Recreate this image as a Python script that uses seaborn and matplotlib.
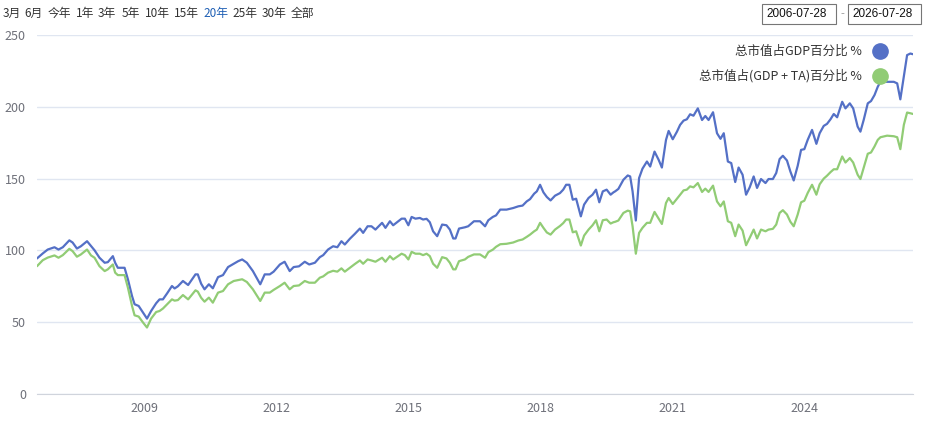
import matplotlib
matplotlib.use("Agg")
import matplotlib.pyplot as plt
import matplotlib.dates as mdates
from matplotlib.patches import Rectangle
import pandas as pd
import seaborn as sns

# Datos
fechas = [
    "2006-07-28", "2006-09-14", "2006-10-25", "2006-12-20", "2007-01-22", "2007-02-27",
    "2007-04-22", "2007-05-19", "2007-06-24", "2007-07-27", "2007-09-16", "2007-10-19",
    "2007-11-17", "2007-12-28", "2008-02-09", "2008-03-06", "2008-04-17", "2008-05-06",
    "2008-05-28", "2008-07-23", "2008-08-20", "2008-09-23", "2008-10-14", "2008-11-17",
    "2008-12-23", "2009-01-25", "2009-02-28", "2009-04-11", "2009-05-09", "2009-06-06",
    "2009-07-11", "2009-08-20", "2009-09-11", "2009-10-08", "2009-11-19", "2010-01-01",
    "2010-03-03", "2010-03-22", "2010-04-19", "2010-05-17", "2010-06-22", "2010-07-25",
    "2010-09-06", "2010-10-17", "2010-11-28", "2011-01-14", "2011-02-20", "2011-03-25",
    "2011-05-03", "2011-06-22", "2011-08-22", "2011-09-28", "2011-11-09", "2011-12-11",
    "2012-02-01", "2012-03-11", "2012-04-22", "2012-05-25", "2012-07-08", "2012-08-25",
    "2012-10-01", "2012-11-17", "2012-12-28", "2013-01-25", "2013-03-06", "2013-04-17",
    "2013-05-22", "2013-06-25", "2013-07-23", "2013-09-03", "2013-10-14", "2013-11-25",
    "2013-12-22", "2014-01-28", "2014-03-01", "2014-04-03", "2014-05-28", "2014-06-25",
    "2014-08-01", "2014-08-28", "2014-11-06", "2014-12-03", "2015-01-01", "2015-01-28",
    "2015-03-01", "2015-04-06", "2015-05-03", "2015-06-01", "2015-06-28", "2015-07-25",
    "2015-08-28", "2015-10-08", "2015-11-13", "2015-12-11", "2016-01-08", "2016-01-27",
    "2016-02-25", "2016-04-14", "2016-05-11", "2016-06-28", "2016-08-17", "2016-09-28",
    "2016-10-25", "2016-12-01", "2016-12-28", "2017-02-01", "2017-03-25", "2017-05-19",
    "2017-07-01", "2017-08-05", "2017-09-08", "2017-10-06", "2017-11-09", "2017-12-01",
    "2017-12-28", "2018-01-25", "2018-02-22", "2018-03-25", "2018-05-01", "2018-06-11",
    "2018-07-08", "2018-08-01", "2018-08-28", "2018-09-25", "2018-10-23", "2018-12-01",
    "2018-12-28", "2019-02-03", "2019-03-08", "2019-04-06", "2019-05-03", "2019-06-01",
    "2019-07-03", "2019-08-05", "2019-08-28", "2019-09-11", "2019-10-08", "2019-11-19",
    "2019-12-25", "2020-01-14", "2020-02-03", "2020-03-01", "2020-03-28", "2020-04-25",
    "2020-06-01", "2020-06-28", "2020-08-03", "2020-09-06", "2020-10-03", "2020-11-06",
    "2020-11-28", "2021-01-01", "2021-02-05", "2021-03-03", "2021-04-01", "2021-04-28",
    "2021-05-25", "2021-06-22", "2021-07-28", "2021-09-01", "2021-09-28", "2021-10-25",
    "2021-12-01", "2022-01-03", "2022-02-01", "2022-02-28", "2022-04-03", "2022-05-01",
    "2022-06-03", "2022-07-01", "2022-08-03", "2022-09-01", "2022-10-01", "2022-11-03",
    "2022-12-01", "2023-01-03", "2023-02-09", "2023-03-06", "2023-04-11", "2023-05-09",
    "2023-06-06", "2023-07-03", "2023-08-06", "2023-09-03", "2023-10-01", "2023-11-03",
    "2023-12-01", "2023-12-28", "2024-01-25", "2024-03-01", "2024-04-06", "2024-05-03",
    "2024-06-06", "2024-07-03", "2024-08-01", "2024-08-28", "2024-09-25", "2024-11-06",
    "2024-12-03", "2025-01-08", "2025-02-05", "2025-03-14", "2025-04-06", "2025-05-03",
    "2025-06-06", "2025-07-03", "2025-08-01", "2025-08-28", "2025-09-19", "2025-11-13",
    "2026-01-08", "2026-02-05", "2026-03-03", "2026-04-01", "2026-04-28", "2026-05-25",
    "2026-06-16",
]

gdp = [
    94.4, 97.9, 100.6, 102.2, 100.6, 102.2,
    107.0, 105.5, 101.3, 102.9, 106.4, 103.0,
    100.1, 94.9, 91.4, 91.8, 96.0, 91.4,
    87.9, 87.9, 79.8, 68.2, 62.5, 61.3,
    56.7, 52.5, 57.8, 63.2, 65.9, 65.9,
    70.1, 75.2, 73.5, 75.0, 78.7, 75.9,
    83.3, 83.3, 76.8, 72.9, 76.4, 73.6,
    81.4, 82.8, 88.4, 90.7, 92.5, 93.7,
    91.4, 85.6, 76.4, 83.3, 83.3, 85.2,
    90.2, 92.1, 85.6, 88.4, 88.9, 92.1,
    90.2, 91.4, 95.3, 96.7, 100.6, 102.9,
    102.2, 106.4, 104.1, 108.1, 111.5, 115.2,
    112.2, 116.8, 116.8, 114.5, 119.2, 115.7,
    120.3, 117.5, 122.1, 122.1, 117.5, 123.3,
    122.1, 122.6, 121.5, 122.0, 119.6, 113.3,
    109.9, 118.0, 117.5, 114.5, 108.3, 108.3,
    115.2, 116.1, 116.8, 120.3, 120.3, 116.8,
    121.0, 123.3, 124.4, 128.4, 128.4, 129.5,
    130.7, 131.2, 134.1, 135.7, 139.5, 141.1,
    145.7, 140.4, 137.2, 134.8, 138.1, 139.9,
    142.3, 145.7, 145.7, 135.3, 136.0, 123.7,
    131.9, 136.5, 138.8, 142.3, 133.5, 141.1,
    142.3, 138.8, 140.4, 141.1, 142.8, 149.2,
    152.2, 151.5, 141.1, 120.8, 150.4, 156.9,
    161.9, 158.4, 168.8, 163.1, 157.7, 176.9,
    183.2, 177.4, 182.7, 187.4, 190.4, 191.3,
    194.8, 193.8, 198.9, 190.8, 193.6, 190.8,
    196.2, 181.6, 177.7, 181.6, 161.9, 160.8,
    147.6, 157.7, 152.7, 138.8, 143.9, 151.5,
    143.5, 149.7, 146.9, 149.7, 149.7, 153.9,
    163.6, 165.9, 162.6, 155.0, 148.7, 158.9,
    170.0, 170.5, 177.0, 183.9, 174.2, 181.6,
    186.7, 188.1, 191.3, 195.0, 192.7, 203.5,
    198.9, 202.4, 198.9, 186.2, 182.7, 190.8,
    202.4, 204.0, 208.2, 214.0, 217.4, 217.4,
    217.4, 216.3, 205.2, 220.9, 236.0, 237.1,
    236.6,
]

gdp_ta = [
    89.0, 93.2, 95.0, 96.5, 94.9, 96.7,
    101.1, 99.5, 95.6, 97.2, 100.6, 96.5,
    94.9, 89.0, 85.6, 86.8, 90.2, 84.5,
    82.8, 82.8, 74.0, 61.3, 54.8, 53.9,
    49.8, 46.3, 52.5, 57.1, 57.8, 59.5,
    62.5, 65.9, 65.0, 65.4, 68.9, 65.9,
    72.2, 71.3, 67.0, 64.3, 67.1, 63.6,
    70.6, 71.7, 76.4, 78.7, 79.3, 79.9,
    78.0, 72.9, 64.8, 70.6, 70.6, 72.5,
    75.2, 77.5, 72.9, 75.2, 75.6, 78.7,
    77.5, 77.5, 81.0, 81.9, 84.5, 85.8,
    85.2, 87.5, 85.2, 87.9, 90.5, 93.0,
    90.7, 93.7, 93.0, 92.1, 94.9, 92.1,
    96.0, 93.7, 97.7, 96.7, 93.7, 99.0,
    97.7, 97.7, 96.7, 97.7, 96.0, 90.7,
    87.9, 95.3, 94.4, 91.4, 86.8, 86.8,
    92.5, 93.7, 95.5, 97.2, 97.2, 94.9,
    98.8, 100.5, 102.5, 104.3, 104.6, 105.5,
    106.9, 107.6, 109.4, 111.0, 113.3, 114.5,
    119.2, 115.7, 112.5, 111.0, 114.5, 117.0,
    119.0, 121.5, 121.5, 112.6, 113.3, 103.4,
    110.3, 114.5, 117.5, 121.0, 113.3, 121.0,
    121.5, 118.7, 119.6, 119.9, 120.8, 126.1,
    127.7, 127.2, 116.8, 97.7, 112.2, 115.7,
    119.2, 119.2, 126.8, 122.1, 118.4, 133.0,
    136.5, 132.3, 136.0, 138.8, 141.8, 142.3,
    144.6, 143.9, 146.9, 140.7, 143.0, 140.7,
    145.1, 134.1, 130.7, 134.1, 120.3, 119.2,
    109.9, 118.0, 113.8, 103.6, 108.7, 114.5,
    108.3, 114.5, 113.3, 114.5, 115.0, 118.0,
    126.1, 128.0, 125.0, 120.0, 116.8, 125.0,
    133.5, 134.6, 140.0, 145.7, 138.8, 146.0,
    150.0, 152.0, 154.5, 156.5, 156.5, 165.4,
    161.2, 164.3, 161.2, 152.7, 149.7, 157.4,
    167.3, 168.2, 172.4, 177.0, 178.8, 179.9,
    179.5, 178.8, 170.5, 187.4, 196.0, 195.5,
    195.0,
]

series_names = ["总市值占GDP百分比 %", "总市值占(GDP + TA)百分比 %"]
colores = ["#5470c6", "#91cc75"]

botones = ["3月", "6月", "今年", "1年", "3年", "5年", "10年", "15年", "20年", "25年", "30年", "全部"]
botones_x = [3, 24, 48, 76, 98, 122, 145, 174, 203, 232, 262, 291]
boton_activo = "20年"
fecha_inicio = "2006-07-28"
fecha_fin = "2026-07-28"

anios_ticks = [2009, 2012, 2015, 2018, 2021, 2024]

df = pd.DataFrame({
    "fecha": pd.to_datetime(fechas * 2),
    "valor": gdp + gdp_ta,
    "serie": [series_names[0]] * len(fechas) + [series_names[1]] * len(fechas),
})

sns.set_style("white")
plt.rcParams["font.family"] = ["Noto Sans CJK SC", "DejaVu Sans"]

W, H = 931, 425
fig = plt.figure(figsize=(W / 100, H / 100), dpi=100)
ax = fig.add_axes([37 / W, (H - 394) / H, (913 - 37) / W, (394 - 35) / H])

sns.lineplot(data=df, x="fecha", y="valor", hue="serie", palette=colores,
             linewidth=1.6, legend=False, ax=ax)

ax.set_ylim(0, 250)
ax.set_yticks([0, 50, 100, 150, 200, 250])
ax.set_xlim(pd.Timestamp(fechas[0]), pd.Timestamp(fechas[-1]))
ax.set_xticks([pd.Timestamp(f"{a}-01-01") for a in anios_ticks])
ax.xaxis.set_major_formatter(mdates.DateFormatter("%Y"))
ax.grid(axis="y", color="#e0e6f1", linewidth=1)
ax.grid(axis="x", visible=False)
for s in ["top", "right", "left"]:
    ax.spines[s].set_visible(False)
ax.spines["bottom"].set_color("#d0d4dc")
ax.tick_params(axis="both", length=0, labelsize=9, colors="#6e7079", pad=6)
ax.tick_params(axis="y", pad=8)
ax.set_xlabel("")
ax.set_ylabel("")

# Leyenda manual: texto a la izquierda, circulo a la derecha
for i, (nombre, c) in enumerate(zip(series_names, colores)):
    yy = 51 + i * 25
    fig.text(862 / W, 1 - yy / H, nombre, ha="right", va="center", fontsize=9, color="#333333")
    ax.plot([(880 - 37) / (913 - 37)], [(394 - yy) / (394 - 35)],
            marker="o", markersize=11, color=c, transform=ax.transAxes, clip_on=False)

# Botones de rango
for b, bx in zip(botones, botones_x):
    color = "#1f5fb4" if b == boton_activo else "#333333"
    fig.text(bx / W, 1 - 13 / H, b, ha="left", va="center", fontsize=8.5,
             fontweight="medium", color=color)

# Cajas de fechas
for x0, x1, txt in [(762, 836, fecha_inicio), (848, 921, fecha_fin)]:
    fig.patches.append(Rectangle((x0 / W, 1 - 24 / H), (x1 - x0) / W, 20 / H,
                                 transform=fig.transFigure, fill=False,
                                 edgecolor="#767676", linewidth=0.8))
    fig.text((x0 + 4) / W, 1 - 14 / H, txt, ha="left", va="center", fontsize=8.5,
             color="#111111", family=["Liberation Sans", "DejaVu Sans"])
fig.text(842 / W, 1 - 14 / H, "-", ha="center", va="center", fontsize=8, color="#999999")

fig.savefig("out.png", dpi=100)
